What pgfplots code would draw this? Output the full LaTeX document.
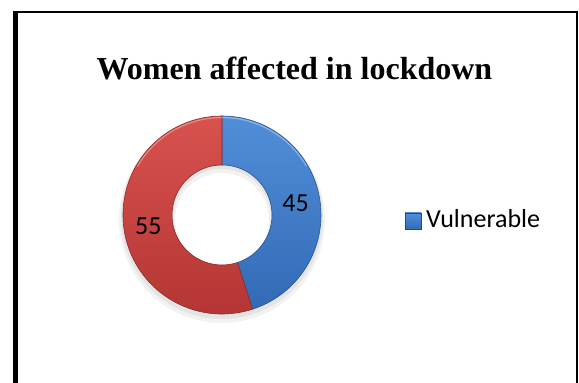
\documentclass[border=0pt]{standalone}
\usepackage{pgfplots}
\pgfplotsset{compat=1.18}
\usepackage{pgfplotstable}
\usepackage{fontspec}
\setmainfont{Carlito}
\newfontfamily\titlefont{Liberation Serif}
\definecolor{bluetop}{RGB}{82,142,216}
\definecolor{bluebot}{RGB}{50,106,182}
\definecolor{redtop}{RGB}{216,82,78}
\definecolor{redbot}{RGB}{178,52,50}

\pgfplotstableread{
label value
Vulnerable 45
Other 55
}\donutdata

\begin{document}
\begin{tikzpicture}
\pgfplotstablegetelem{0}{value}\of\donutdata \let\va\pgfplotsretval
\pgfplotstablegetelem{1}{value}\of\donutdata \let\vb\pgfplotsretval
\pgfmathsetmacro\aA{90-3.6*\va}
\pgfmathsetmacro\aB{\aA-3.6*\vb}
\pgfmathsetmacro\mA{(90+\aA)/2}
\pgfmathsetmacro\mB{(\aA+\aB)/2}
\def\cx{222}\def\cy{168}\def\Ro{99}\def\Ri{50}\def\Rl{74.5}
\begin{axis}[
  at={(0,0)}, anchor=south west,
  scale only axis, width=579pt, height=383pt,
  xmin=0, xmax=579, ymin=0, ymax=383,
  hide axis, clip=false,
]
% shadow
\fill[black, opacity=0.05, even odd rule] (axis cs:\cx,\cy-5) circle[radius=103pt] (axis cs:\cx,\cy-5) circle[radius=47pt];
\fill[black, opacity=0.06, even odd rule] (axis cs:\cx,\cy-3) circle[radius=101pt] (axis cs:\cx,\cy-3) circle[radius=49pt];
% blue wedge
\shade[top color=bluetop, bottom color=bluebot, draw=bluebot!80!black, line width=0.6pt]
  (axis cs:{\cx+\Ro*cos(90)},{\cy+\Ro*sin(90)}) arc[start angle=90, end angle=\aA, radius=\Ro pt]
  -- (axis cs:{\cx+\Ri*cos(\aA)},{\cy+\Ri*sin(\aA)}) arc[start angle=\aA, end angle=90, radius=\Ri pt] -- cycle;
% red wedge
\shade[top color=redtop, bottom color=redbot, draw=redbot!80!black, line width=0.6pt]
  (axis cs:{\cx+\Ro*cos(\aA)},{\cy+\Ro*sin(\aA)}) arc[start angle=\aA, end angle=\aB, radius=\Ro pt]
  -- (axis cs:{\cx+\Ri*cos(\aB)},{\cy+\Ri*sin(\aB)}) arc[start angle=\aB, end angle=\aA, radius=\Ri pt] -- cycle;
% highlights
\draw[white, opacity=0.35, line width=1.2pt] (axis cs:{\cx+(\Ro-1.5)*cos(150)},{\cy+(\Ro-1.5)*sin(150)}) arc[start angle=150, end angle=30, radius=\Ro pt-1.5pt];
% data labels
\node[font=\fontsize{26}{31}\selectfont, inner sep=0] at (axis cs:{\cx+\Rl*cos(\mA)},{\cy+\Rl*sin(\mA)}) {\va};
\node[font=\fontsize{26}{31}\selectfont, inner sep=0] at (axis cs:{\cx+\Rl*cos(\mB)},{\cy+\Rl*sin(\mB)}) {\vb};
% title
\node[anchor=base, inner sep=0, font=\titlefont\bfseries\fontsize{32}{38}\selectfont] at (axis cs:294.5,303) {Women affected in lockdown};
% legend
\shade[top color=bluetop, bottom color=bluebot, draw=bluebot!70!black, line width=0.4pt] (axis cs:405,154) rectangle (axis cs:421,170);
\node[anchor=base west, inner sep=0, font=\fontsize{26}{31}\selectfont] at (axis cs:426,155) {Vulnerable};
% frame
\draw[line width=5pt] (axis cs:15.5,-10) -- (axis cs:15.5,372);
\draw[line width=1.6pt] (axis cs:13,370.7) -- (axis cs:577,370.7) -- (axis cs:577,-10);
\end{axis}
\pgfresetboundingbox
\path (0,0) rectangle (579pt,383pt);
\end{tikzpicture}
\end{document}
